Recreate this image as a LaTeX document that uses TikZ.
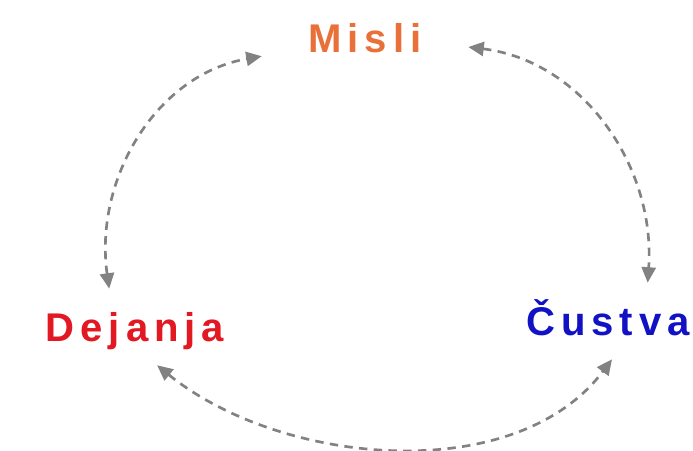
\documentclass[tikz,border=0pt]{standalone}
\usepackage{fontspec}
\usepackage{tikz}
\usetikzlibrary{arrows.meta}

\newfontfamily\wordfont[LetterSpace=15]{Liberation Sans Bold}

\definecolor{misliorange}{RGB}{234,112,58}
\definecolor{dejanjared}{RGB}{226,24,34}
\definecolor{custvablue}{RGB}{18,18,196}
\definecolor{linkgray}{RGB}{130,130,130}

\begin{document}
\begin{tikzpicture}[
        x=0.025cm, y=0.025cm,
        word/.style={rectangle, inner sep=0pt, text height=0.75cm, text depth=0pt,
            minimum height=1.9cm, font=\wordfont\fontsize{28.5}{30}\selectfont},
        link/.style={{Triangle[length=11pt, width=10pt]}-{Triangle[length=11pt, width=10pt]},
            draw=linkgray, line width=1.9pt, dash pattern=on 6pt off 4.5pt}
    ]
\useasboundingbox (0,0) rectangle (693,451);

\node[word, text=misliorange, minimum width=5.15cm, minimum height=1.4cm] (misli) at (365, 413) {Misli};
        \node[word, text=dejanjared, minimum width=4.75cm] (dejanja) at (135, 124) {Dejanja};
        \node[word, text=custvablue, minimum width=4.5cm] (custva) at (608, 130) {Čustva};

\draw[link] (dejanja.124) to[out=98, in=190] (misli.190);
        \draw[link] (misli.-5) to[out=-7, in=86] (custva.44);
        \draw[link] (dejanja.-60) to[out=-39, in=233, looseness=0.9] (custva.-84);

    \end{tikzpicture}
\end{document}
